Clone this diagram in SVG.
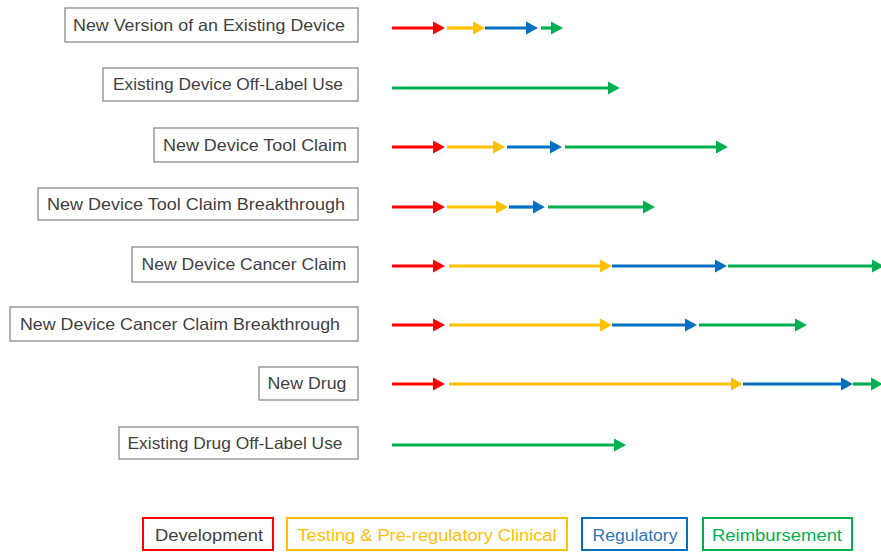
<svg xmlns="http://www.w3.org/2000/svg" width="881" height="552" viewBox="0 0 881 552">
<style>
.box{fill:#fff;stroke:#8a8a8a;stroke-width:1.3}
.lbl{font-family:"Liberation Sans",Arial,sans-serif;font-size:16.5px;fill:#3f3f3f;text-anchor:middle}
.leg{font-family:"Liberation Sans",Arial,sans-serif;font-size:16px;text-anchor:middle}
.a{stroke-width:3.2;fill:none}
.r{stroke:#ff0000}.y{stroke:#ffc000}.b{stroke:#0070c0}.g{stroke:#00b050}
</style>
<defs>
<marker id="mr" markerUnits="userSpaceOnUse" markerWidth="13" markerHeight="14" refX="1" refY="7" orient="auto"><path d="M0,0.5 L12,7 L0,13.5 z" fill="#ff0000"/></marker>
<marker id="my" markerUnits="userSpaceOnUse" markerWidth="13" markerHeight="14" refX="1" refY="7" orient="auto"><path d="M0,0.5 L12,7 L0,13.5 z" fill="#ffc000"/></marker>
<marker id="mb" markerUnits="userSpaceOnUse" markerWidth="13" markerHeight="14" refX="1" refY="7" orient="auto"><path d="M0,0.5 L12,7 L0,13.5 z" fill="#0070c0"/></marker>
<marker id="mg" markerUnits="userSpaceOnUse" markerWidth="13" markerHeight="14" refX="1" refY="7" orient="auto"><path d="M0,0.5 L12,7 L0,13.5 z" fill="#00b050"/></marker>
</defs>
<rect width="881" height="552" fill="#fff"/>

<g id="n1"><rect class="box" x="65" y="8" width="293" height="34"/><text class="lbl" x="209" y="31" textLength="272" lengthAdjust="spacingAndGlyphs">New Version of an Existing Device</text></g>
<g id="n2"><rect class="box" x="103" y="68" width="255" height="33"/><text class="lbl" x="228" y="90" textLength="230" lengthAdjust="spacingAndGlyphs">Existing Device Off-Label Use</text></g>
<g id="n3"><rect class="box" x="154" y="128" width="204" height="34"/><text class="lbl" x="255" y="151" textLength="184" lengthAdjust="spacingAndGlyphs">New Device Tool Claim</text></g>
<g id="n4"><rect class="box" x="38" y="188" width="320" height="32"/><text class="lbl" x="196" y="210" textLength="298" lengthAdjust="spacingAndGlyphs">New Device Tool Claim Breakthrough</text></g>
<g id="n5"><rect class="box" x="132" y="247" width="226" height="35"/><text class="lbl" x="244" y="270" textLength="205" lengthAdjust="spacingAndGlyphs">New Device Cancer Claim</text></g>
<g id="n6"><rect class="box" x="10" y="307" width="348" height="34"/><text class="lbl" x="180" y="330" textLength="320" lengthAdjust="spacingAndGlyphs">New Device Cancer Claim Breakthrough</text></g>
<g id="n7"><rect class="box" x="259" y="367" width="99" height="33"/><text class="lbl" x="307" y="389" textLength="79" lengthAdjust="spacingAndGlyphs">New Drug</text></g>
<g id="n8"><rect class="box" x="119" y="427" width="239" height="32"/><text class="lbl" x="235" y="449" textLength="215" lengthAdjust="spacingAndGlyphs">Existing Drug Off-Label Use</text></g>

<g id="connectors">
<line class="a r" x1="392" y1="28" x2="434" y2="28" marker-end="url(#mr)"/>
<line class="a y" x1="447" y1="28" x2="474" y2="28" marker-end="url(#my)"/>
<line class="a b" x1="485" y1="28" x2="527" y2="28" marker-end="url(#mb)"/>
<line class="a g" x1="541" y1="28" x2="552" y2="28" marker-end="url(#mg)"/>

<line class="a g" x1="392" y1="88" x2="609" y2="88" marker-end="url(#mg)"/>

<line class="a r" x1="392" y1="147" x2="434" y2="147" marker-end="url(#mr)"/>
<line class="a y" x1="447" y1="147" x2="494" y2="147" marker-end="url(#my)"/>
<line class="a b" x1="507" y1="147" x2="551" y2="147" marker-end="url(#mb)"/>
<line class="a g" x1="565" y1="147" x2="717" y2="147" marker-end="url(#mg)"/>

<line class="a r" x1="392" y1="207" x2="434" y2="207" marker-end="url(#mr)"/>
<line class="a y" x1="447" y1="207" x2="497" y2="207" marker-end="url(#my)"/>
<line class="a b" x1="509" y1="207" x2="534" y2="207" marker-end="url(#mb)"/>
<line class="a g" x1="548" y1="207" x2="644" y2="207" marker-end="url(#mg)"/>

<line class="a r" x1="392" y1="266" x2="434" y2="266" marker-end="url(#mr)"/>
<line class="a y" x1="449" y1="266" x2="601" y2="266" marker-end="url(#my)"/>
<line class="a b" x1="612" y1="266" x2="716" y2="266" marker-end="url(#mb)"/>
<line class="a g" x1="728" y1="266" x2="873" y2="266" marker-end="url(#mg)"/>

<line class="a r" x1="392" y1="325" x2="434" y2="325" marker-end="url(#mr)"/>
<line class="a y" x1="449" y1="325" x2="601" y2="325" marker-end="url(#my)"/>
<line class="a b" x1="612" y1="325" x2="686" y2="325" marker-end="url(#mb)"/>
<line class="a g" x1="699" y1="325" x2="796" y2="325" marker-end="url(#mg)"/>

<line class="a r" x1="392" y1="384" x2="434" y2="384" marker-end="url(#mr)"/>
<line class="a y" x1="449" y1="384" x2="732" y2="384" marker-end="url(#my)"/>
<line class="a b" x1="743" y1="384" x2="842" y2="384" marker-end="url(#mb)"/>
<line class="a g" x1="853" y1="384" x2="872" y2="384" marker-end="url(#mg)"/>

<line class="a g" x1="392" y1="445" x2="615" y2="445" marker-end="url(#mg)"/>
</g>

<g id="legend-development"><rect x="143" y="518" width="130" height="32" fill="#fff" stroke="#ff0000" stroke-width="2"/><text class="leg" x="209" y="541" fill="#3f3f3f" textLength="108" lengthAdjust="spacingAndGlyphs">Development</text></g>
<g id="legend-testing"><rect x="287" y="518" width="280" height="32" fill="#fff" stroke="#ffc000" stroke-width="2"/><text class="leg" x="427" y="541" fill="#ffc000" textLength="259" lengthAdjust="spacingAndGlyphs">Testing &amp; Pre-regulatory Clinical</text></g>
<g id="legend-regulatory"><rect x="582" y="518" width="105" height="32" fill="#fff" stroke="#0070c0" stroke-width="2"/><text class="leg" x="635" y="541" fill="#2e75b6" textLength="85" lengthAdjust="spacingAndGlyphs">Regulatory</text></g>
<g id="legend-reimbursement"><rect x="703" y="518" width="149" height="32" fill="#fff" stroke="#00b050" stroke-width="2"/><text class="leg" x="777" y="541" fill="#00b050" textLength="130" lengthAdjust="spacingAndGlyphs">Reimbursement</text></g>
</svg>
